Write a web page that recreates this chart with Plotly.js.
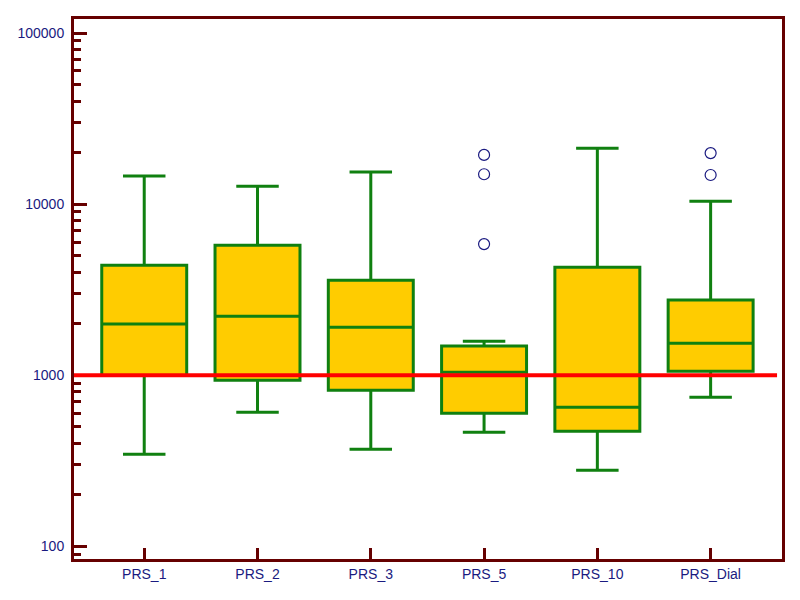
<!DOCTYPE html>
<html>
<head>
<meta charset="utf-8">
<script src="https://cdn.plot.ly/plotly-3.0.1.min.js"></script>
<style>html,body{margin:0;padding:0;background:#fff;}#chart{width:800px;height:600px;}</style>
</head>
<body>
<div id="chart"></div>
<script>
const categories = ["PRS_1", "PRS_2", "PRS_3", "PRS_5", "PRS_10", "PRS_Dial"];
const lowerWhisker = [345, 608, 369, 464, 278, 743];
const q1Values = [995, 935, 817, 600, 470, 1055];
const medianValues = [1990, 2210, 1910, 1040, 650, 1540];
const q3Values = [4400, 5750, 3590, 1480, 4280, 2750];
const upperWhisker = [14600, 12700, 15400, 1580, 21200, 10400];
const outlierCats = ["PRS_5", "PRS_5", "PRS_5", "PRS_Dial", "PRS_Dial"];
const outlierVals = [19400, 14950, 5840, 19870, 14800];
const referenceLevel = 1000;

const axisColor = "#660000";
const labelColor = "#1a1a80";

const traces = [
  {
    type: "box",
    x: categories,
    q1: q1Values,
    median: medianValues,
    q3: q3Values,
    lowerfence: lowerWhisker,
    upperfence: upperWhisker,
    fillcolor: "#FFCC00",
    line: {color: "#108010", width: 3},
    width: 0.75,
    whiskerwidth: 0.5,
    boxpoints: false,
    hoverinfo: "skip",
    showlegend: false
  },
  {
    type: "scatter",
    mode: "markers",
    x: outlierCats,
    y: outlierVals,
    marker: {symbol: "circle-open", size: 11, color: labelColor, line: {width: 1.2, color: labelColor}},
    hoverinfo: "skip",
    showlegend: false
  }
];

const layout = {
  width: 800,
  height: 600,
  margin: {l: 74, r: 18, t: 19, b: 41},
  paper_bgcolor: "#ffffff",
  plot_bgcolor: "#ffffff",
  showlegend: false,
  font: {family: "Arial, Liberation Sans, sans-serif", size: 14, color: labelColor},
  xaxis: {
    type: "category",
    range: [-0.62, 5.63],
    showline: true,
    linecolor: axisColor,
    linewidth: 3,
    mirror: true,
    showgrid: false,
    zeroline: false,
    ticks: "inside",
    ticklen: 11,
    tickwidth: 3,
    tickcolor: axisColor,
    tickfont: {family: "Arial, Liberation Sans, sans-serif", size: 14, color: labelColor}
  },
  yaxis: {
    type: "log",
    range: [1.926, 5.082],
    showline: true,
    linecolor: axisColor,
    linewidth: 3,
    mirror: true,
    showgrid: false,
    zeroline: false,
    tickmode: "linear",
    tick0: 0,
    dtick: 1,
    tickformat: "d",
    ticks: "inside",
    ticklen: 13,
    tickwidth: 3,
    tickcolor: axisColor,
    ticklabelstandoff: 4,
    tickfont: {family: "Arial, Liberation Sans, sans-serif", size: 14, color: labelColor},
    minor: {dtick: "D1", ticks: "inside", ticklen: 7, tickwidth: 3, tickcolor: axisColor, showgrid: false}
  },
  shapes: [
    {
      type: "line",
      xref: "paper",
      yref: "y",
      x0: 0,
      x1: 0.993,
      y0: referenceLevel,
      y1: referenceLevel,
      line: {color: "#ff0000", width: 4},
      layer: "above"
    }
  ]
};

Plotly.newPlot("chart", traces, layout, {displayModeBar: false, staticPlot: true});
</script>
</body>
</html>
